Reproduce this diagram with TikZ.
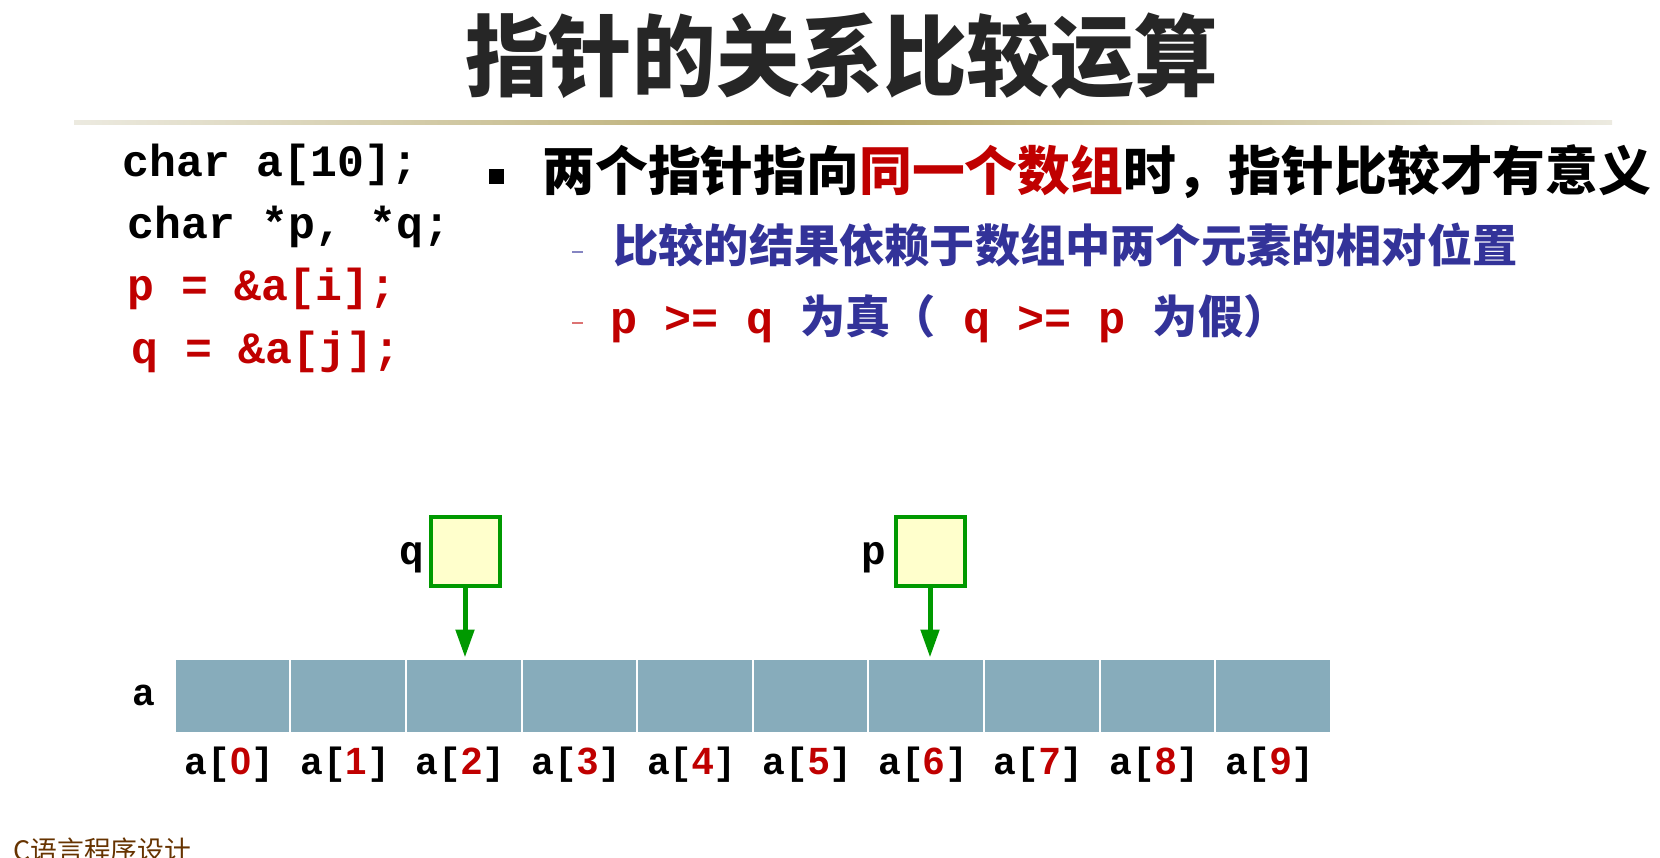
\documentclass[tikz,border=0pt]{standalone}
\usepackage{fontspec}
\newfontfamily\cjk{Noto Sans CJK SC}
\newfontfamily\codefont{Liberation Mono}
\newfontfamily\digitfont{Liberation Sans}
\usetikzlibrary{arrows.meta}
\definecolor{titlegray}{RGB}{38,38,38}
\definecolor{codered}{RGB}{192,0,0}
\definecolor{itemblue}{RGB}{51,51,153}
\definecolor{ptrgreen}{RGB}{0,153,0}
\definecolor{boxyellow}{RGB}{255,255,204}
\definecolor{cellblue}{RGB}{135,172,187}
\definecolor{footbrown}{RGB}{102,51,0}
\definecolor{rulegold}{RGB}{180,165,100}
\definecolor{ruleend}{RGB}{236,234,224}
\newcommand{\code}{\codefont\bfseries}
\newcommand{\idx}[1]{{\code a[}{\digitfont\color{codered}#1}{\code ]}}

\begin{document}
\begin{tikzpicture}[x=0.5pt, y=-0.5pt,
  txt/.style={inner sep=0pt, anchor=base west},
  cellbox/.style={draw=white, line width=1pt, fill=cellblue, minimum width=57.8pt, minimum height=37pt, inner sep=0pt},
  ptrbox/.style={draw=ptrgreen, line width=2pt, fill=boxyellow, minimum size=34.5pt, inner sep=0pt},
  ptr/.style={-{Triangle[length=14pt, width=9pt]}, draw=ptrgreen, line width=2.5pt}]
  \useasboundingbox (0,0) rectangle (1660,857);
  \node[font=\cjk\bfseries\fontsize{44.3}{48}\selectfont, text=titlegray, xscale=0.944] (title) at (841.5,56.5) {指针的关系比较运算};
  \shade[left color=ruleend, right color=ruleend, middle color=rulegold] (74,120) rectangle (1612,124);

  \node[txt, font=\code\fontsize{22.4}{26}\selectfont] (decla) at (122,176.7) {char a[10];};
  \node[txt, font=\code\fontsize{22.4}{26}\selectfont] (declp) at (127,238) {char *p, *q;};
  \node[txt, font=\code\fontsize{22.4}{26}\selectfont, text=codered] (setp) at (127,300) {p = \&a[i];};
  \node[txt, font=\code\fontsize{22.4}{26}\selectfont, text=codered] (setq) at (131,363) {q = \&a[j];};

  \node[fill=black, minimum size=7.5pt, inner sep=0pt] (bullet) at (496.5,176.5) {};
  \node[txt, font=\cjk\bfseries\fontsize{26.4}{30}\selectfont] (point) at (542,190.3) {两个指针指向\textcolor{codered}{同一个数组}时，指针比较才有意义};
  \draw[itemblue!60, line width=0.75pt] (572,252) -- (583,252);
  \node[txt, text=itemblue, font=\cjk\bfseries\fontsize{22.6}{26}\selectfont] (sub1) at (613,262.5) {比较的结果依赖于数组中两个元素的相对位置};
  \draw[codered!55, line width=0.75pt] (572,323) -- (583,323);
  \node[txt, text=itemblue, font=\cjk\bfseries\fontsize{22.6}{26}\selectfont] (sub2) at (610,333) {{\code\color{codered}p >= q }为真（{\code\color{codered}\ q >= p }为假）};

  \foreach \i in {0,...,9}
    \node[cellbox] (cell\i) at ({174.7+115.6*(\i+0.5)},695.5) {};
  \foreach \i in {0,...,9}
    \node[font=\code\fontsize{19}{22}\selectfont, inner sep=0pt] (idx\i) at ({174.7+115.6*(\i+0.5)-3},765) {\idx{\i}};
  \node[font=\code\fontsize{19}{22}\selectfont, inner sep=0pt, anchor=east] (aname) at (156,695) {a};

  \node[ptrbox] (qbox) at (465,551) {};
  \node[ptrbox] (pbox) at (930,551) {};
  \node[font=\code\fontsize{20.5}{24}\selectfont, inner sep=0pt, anchor=east] (qname) at (424,558) {q};
  \node[font=\code\fontsize{20.5}{24}\selectfont, inner sep=0pt, anchor=east] (pname) at (886,558) {p};
  \draw[ptr] (qbox.south) -- (cell2.north -| qbox.south);
  \draw[ptr] (pbox.south) -- (pbox.south |- cell6.north);

  \node[txt, text=footbrown, font=\cjk\fontsize{13.4}{16}\selectfont] (footer) at (13,860) {C语言程序设计};
\end{tikzpicture}
\end{document}
